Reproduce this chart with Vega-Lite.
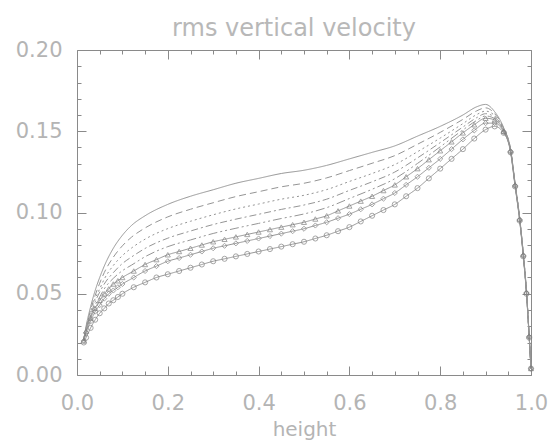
{
  "$schema": "https://vega.github.io/schema/vega-lite/v6.json",
  "width": 454,
  "height": 325,
  "autosize": {"type": "none"},
  "padding": {"left": 77, "top": 50, "right": 22, "bottom": 66},
  "background": "white",
  "config": {
    "view": {"stroke": "#8a8a8a", "strokeWidth": 1},
    "font": "DejaVu Sans",
    "axis": {"domain": false, "grid": false, "ticks": true, "tickColor": "#8a8a8a", "tickWidth": 1, "labelColor": "#b4b4b4", "labelFont": "DejaVu Sans", "labelFontSize": 21, "titleColor": "#b4b4b4", "titleFont": "DejaVu Sans", "titleFontWeight": "normal", "titleFontSize": 20}
  },
  "title": {"text": "rms vertical velocity", "fontSize": 24, "color": "#b8b8b8", "font": "DejaVu Sans", "fontWeight": "normal", "frame": "group", "anchor": "middle", "offset": -2, "dx": -10},
  "data": {"values": [
    {"k":"s","x":0.015,"v":0.022},{"k":"s","x":0.02,"v":0.030},{"k":"s","x":0.03,"v":0.042},{"k":"s","x":0.04,"v":0.052},{"k":"s","x":0.05,"v":0.060},{"k":"s","x":0.06,"v":0.067},{"k":"s","x":0.08,"v":0.078},{"k":"s","x":0.10,"v":0.086},{"k":"s","x":0.12,"v":0.092},{"k":"s","x":0.15,"v":0.098},{"k":"s","x":0.20,"v":0.105},{"k":"s","x":0.25,"v":0.110},{"k":"s","x":0.30,"v":0.114},{"k":"s","x":0.35,"v":0.118},{"k":"s","x":0.40,"v":0.121},{"k":"s","x":0.45,"v":0.124},{"k":"s","x":0.50,"v":0.126},{"k":"s","x":0.55,"v":0.129},{"k":"s","x":0.60,"v":0.133},{"k":"s","x":0.65,"v":0.137},{"k":"s","x":0.70,"v":0.141},{"k":"s","x":0.75,"v":0.147},{"k":"s","x":0.80,"v":0.153},{"k":"s","x":0.85,"v":0.160},{"k":"s","x":0.88,"v":0.165},{"k":"s","x":0.90,"v":0.1665},{"k":"s","x":0.92,"v":0.162},{"k":"s","x":0.94,"v":0.152},{"k":"s","x":0.955,"v":0.139},{"k":"s","x":0.965,"v":0.118},{"k":"s","x":0.975,"v":0.097},{"k":"s","x":0.983,"v":0.075},{"k":"s","x":0.99,"v":0.052},{"k":"s","x":0.996,"v":0.024},{"k":"s","x":1.0,"v":0.004},

    {"k":"d1","x":0.015,"v":0.022},{"k":"d1","x":0.02,"v":0.029},{"k":"d1","x":0.03,"v":0.040},{"k":"d1","x":0.04,"v":0.049},{"k":"d1","x":0.05,"v":0.0565},{"k":"d1","x":0.06,"v":0.063},{"k":"d1","x":0.08,"v":0.0725},{"k":"d1","x":0.10,"v":0.0795},{"k":"d1","x":0.12,"v":0.0848},{"k":"d1","x":0.15,"v":0.0905},{"k":"d1","x":0.20,"v":0.0973},{"k":"d1","x":0.25,"v":0.102},{"k":"d1","x":0.30,"v":0.106},{"k":"d1","x":0.35,"v":0.1098},{"k":"d1","x":0.40,"v":0.1128},{"k":"d1","x":0.45,"v":0.1158},{"k":"d1","x":0.50,"v":0.118},{"k":"d1","x":0.55,"v":0.1213},{"k":"d1","x":0.60,"v":0.1258},{"k":"d1","x":0.65,"v":0.1303},{"k":"d1","x":0.70,"v":0.135},{"k":"d1","x":0.75,"v":0.142},{"k":"d1","x":0.80,"v":0.1493},{"k":"d1","x":0.85,"v":0.1573},{"k":"d1","x":0.88,"v":0.1625},{"k":"d1","x":0.90,"v":0.1644},{"k":"d1","x":0.92,"v":0.1608},{"k":"d1","x":0.94,"v":0.1515},{"k":"d1","x":0.955,"v":0.139},{"k":"d1","x":0.965,"v":0.1175},{"k":"d1","x":0.975,"v":0.0965},{"k":"d1","x":0.983,"v":0.0745},{"k":"d1","x":0.99,"v":0.0515},{"k":"d1","x":0.996,"v":0.024},{"k":"d1","x":1.0,"v":0.004},

    {"k":"d2","x":0.015,"v":0.022},{"k":"d2","x":0.02,"v":0.029},{"k":"d2","x":0.03,"v":0.039},{"k":"d2","x":0.04,"v":0.047},{"k":"d2","x":0.05,"v":0.053},{"k":"d2","x":0.06,"v":0.059},{"k":"d2","x":0.08,"v":0.0674},{"k":"d2","x":0.10,"v":0.0735},{"k":"d2","x":0.12,"v":0.0781},{"k":"d2","x":0.15,"v":0.0836},{"k":"d2","x":0.20,"v":0.0901},{"k":"d2","x":0.25,"v":0.0946},{"k":"d2","x":0.30,"v":0.0986},{"k":"d2","x":0.35,"v":0.1022},{"k":"d2","x":0.40,"v":0.1052},{"k":"d2","x":0.45,"v":0.1082},{"k":"d2","x":0.50,"v":0.1106},{"k":"d2","x":0.55,"v":0.1141},{"k":"d2","x":0.60,"v":0.1191},{"k":"d2","x":0.65,"v":0.124},{"k":"d2","x":0.70,"v":0.1295},{"k":"d2","x":0.75,"v":0.1374},{"k":"d2","x":0.80,"v":0.1458},{"k":"d2","x":0.85,"v":0.1547},{"k":"d2","x":0.88,"v":0.1602},{"k":"d2","x":0.90,"v":0.1624},{"k":"d2","x":0.92,"v":0.1596},{"k":"d2","x":0.94,"v":0.151},{"k":"d2","x":0.955,"v":0.1385},{"k":"d2","x":0.965,"v":0.1175},{"k":"d2","x":0.975,"v":0.0965},{"k":"d2","x":0.983,"v":0.0745},{"k":"d2","x":0.99,"v":0.0515},{"k":"d2","x":0.996,"v":0.024},{"k":"d2","x":1.0,"v":0.004},

    {"k":"d3","x":0.015,"v":0.021},{"k":"d3","x":0.02,"v":0.028},{"k":"d3","x":0.03,"v":0.037},{"k":"d3","x":0.04,"v":0.045},{"k":"d3","x":0.05,"v":0.051},{"k":"d3","x":0.06,"v":0.056},{"k":"d3","x":0.08,"v":0.063},{"k":"d3","x":0.10,"v":0.0686},{"k":"d3","x":0.12,"v":0.0726},{"k":"d3","x":0.15,"v":0.0779},{"k":"d3","x":0.20,"v":0.0842},{"k":"d3","x":0.25,"v":0.0886},{"k":"d3","x":0.30,"v":0.0926},{"k":"d3","x":0.35,"v":0.0959},{"k":"d3","x":0.40,"v":0.0989},{"k":"d3","x":0.45,"v":0.1019},{"k":"d3","x":0.50,"v":0.1046},{"k":"d3","x":0.55,"v":0.1082},{"k":"d3","x":0.60,"v":0.1136},{"k":"d3","x":0.65,"v":0.1189},{"k":"d3","x":0.70,"v":0.1249},{"k":"d3","x":0.75,"v":0.1336},{"k":"d3","x":0.80,"v":0.143},{"k":"d3","x":0.85,"v":0.1526},{"k":"d3","x":0.88,"v":0.1583},{"k":"d3","x":0.90,"v":0.1608},{"k":"d3","x":0.92,"v":0.1587},{"k":"d3","x":0.94,"v":0.1507},{"k":"d3","x":0.955,"v":0.1383},{"k":"d3","x":0.965,"v":0.1173},{"k":"d3","x":0.975,"v":0.0963},{"k":"d3","x":0.983,"v":0.0743},{"k":"d3","x":0.99,"v":0.0513},{"k":"d3","x":0.996,"v":0.024},{"k":"d3","x":1.0,"v":0.004},

    {"k":"d4","x":0.015,"v":0.021},{"k":"d4","x":0.02,"v":0.027},{"k":"d4","x":0.03,"v":0.036},{"k":"d4","x":0.04,"v":0.043},{"k":"d4","x":0.05,"v":0.048},{"k":"d4","x":0.06,"v":0.053},{"k":"d4","x":0.08,"v":0.0595},{"k":"d4","x":0.10,"v":0.0642},{"k":"d4","x":0.12,"v":0.0676},{"k":"d4","x":0.15,"v":0.0728},{"k":"d4","x":0.20,"v":0.079},{"k":"d4","x":0.25,"v":0.0831},{"k":"d4","x":0.30,"v":0.0871},{"k":"d4","x":0.35,"v":0.0903},{"k":"d4","x":0.40,"v":0.0933},{"k":"d4","x":0.45,"v":0.0963},{"k":"d4","x":0.50,"v":0.0991},{"k":"d4","x":0.55,"v":0.103},{"k":"d4","x":0.60,"v":0.1086},{"k":"d4","x":0.65,"v":0.1143},{"k":"d4","x":0.70,"v":0.1208},{"k":"d4","x":0.75,"v":0.1302},{"k":"d4","x":0.80,"v":0.1404},{"k":"d4","x":0.85,"v":0.1508},{"k":"d4","x":0.88,"v":0.1566},{"k":"d4","x":0.90,"v":0.1594},{"k":"d4","x":0.92,"v":0.1578},{"k":"d4","x":0.94,"v":0.1503},{"k":"d4","x":0.955,"v":0.138},{"k":"d4","x":0.965,"v":0.1172},{"k":"d4","x":0.975,"v":0.0962},{"k":"d4","x":0.983,"v":0.0742},{"k":"d4","x":0.99,"v":0.0512},{"k":"d4","x":0.996,"v":0.024},{"k":"d4","x":1.0,"v":0.004},

    {"k":"a","x":0.015,"v":0.021},{"k":"a","x":0.02,"v":0.027},{"k":"a","x":0.03,"v":0.035},{"k":"a","x":0.04,"v":0.041},{"k":"a","x":0.05,"v":0.046},{"k":"a","x":0.06,"v":0.050},{"k":"a","x":0.07,"v":0.053},{"k":"a","x":0.08,"v":0.056},{"k":"a","x":0.09,"v":0.058},{"k":"a","x":0.10,"v":0.060},{"k":"a","x":0.125,"v":0.064},{"k":"a","x":0.15,"v":0.068},{"k":"a","x":0.175,"v":0.071},{"k":"a","x":0.20,"v":0.074},{"k":"a","x":0.225,"v":0.076},{"k":"a","x":0.25,"v":0.078},{"k":"a","x":0.275,"v":0.080},{"k":"a","x":0.30,"v":0.082},{"k":"a","x":0.325,"v":0.0835},{"k":"a","x":0.35,"v":0.085},{"k":"a","x":0.375,"v":0.0865},{"k":"a","x":0.40,"v":0.088},{"k":"a","x":0.425,"v":0.0895},{"k":"a","x":0.45,"v":0.091},{"k":"a","x":0.475,"v":0.0925},{"k":"a","x":0.50,"v":0.094},{"k":"a","x":0.525,"v":0.096},{"k":"a","x":0.55,"v":0.098},{"k":"a","x":0.575,"v":0.101},{"k":"a","x":0.60,"v":0.104},{"k":"a","x":0.625,"v":0.107},{"k":"a","x":0.65,"v":0.110},{"k":"a","x":0.675,"v":0.1135},{"k":"a","x":0.70,"v":0.117},{"k":"a","x":0.725,"v":0.122},{"k":"a","x":0.75,"v":0.127},{"k":"a","x":0.775,"v":0.1325},{"k":"a","x":0.80,"v":0.138},{"k":"a","x":0.825,"v":0.1435},{"k":"a","x":0.85,"v":0.149},{"k":"a","x":0.875,"v":0.154},{"k":"a","x":0.90,"v":0.158},{"k":"a","x":0.92,"v":0.157},{"k":"a","x":0.94,"v":0.150},{"k":"a","x":0.955,"v":0.138},{"k":"a","x":0.965,"v":0.117},{"k":"a","x":0.975,"v":0.096},{"k":"a","x":0.983,"v":0.074},{"k":"a","x":0.99,"v":0.051},{"k":"a","x":0.996,"v":0.024},{"k":"a","x":1.0,"v":0.004},

    {"k":"b","x":0.015,"v":0.021},{"k":"b","x":0.02,"v":0.026},{"k":"b","x":0.03,"v":0.033},{"k":"b","x":0.04,"v":0.039},{"k":"b","x":0.05,"v":0.043},{"k":"b","x":0.06,"v":0.047},{"k":"b","x":0.07,"v":0.050},{"k":"b","x":0.08,"v":0.052},{"k":"b","x":0.09,"v":0.054},{"k":"b","x":0.10,"v":0.056},{"k":"b","x":0.125,"v":0.060},{"k":"b","x":0.15,"v":0.064},{"k":"b","x":0.175,"v":0.067},{"k":"b","x":0.20,"v":0.070},{"k":"b","x":0.225,"v":0.072},{"k":"b","x":0.25,"v":0.074},{"k":"b","x":0.275,"v":0.076},{"k":"b","x":0.30,"v":0.078},{"k":"b","x":0.325,"v":0.0795},{"k":"b","x":0.35,"v":0.081},{"k":"b","x":0.375,"v":0.0825},{"k":"b","x":0.40,"v":0.084},{"k":"b","x":0.425,"v":0.0855},{"k":"b","x":0.45,"v":0.087},{"k":"b","x":0.475,"v":0.0885},{"k":"b","x":0.50,"v":0.090},{"k":"b","x":0.525,"v":0.092},{"k":"b","x":0.55,"v":0.094},{"k":"b","x":0.575,"v":0.0965},{"k":"b","x":0.60,"v":0.099},{"k":"b","x":0.625,"v":0.102},{"k":"b","x":0.65,"v":0.105},{"k":"b","x":0.675,"v":0.1085},{"k":"b","x":0.70,"v":0.112},{"k":"b","x":0.725,"v":0.117},{"k":"b","x":0.75,"v":0.122},{"k":"b","x":0.775,"v":0.1275},{"k":"b","x":0.80,"v":0.133},{"k":"b","x":0.825,"v":0.139},{"k":"b","x":0.85,"v":0.145},{"k":"b","x":0.875,"v":0.1505},{"k":"b","x":0.90,"v":0.155},{"k":"b","x":0.92,"v":0.155},{"k":"b","x":0.94,"v":0.1495},{"k":"b","x":0.955,"v":0.1375},{"k":"b","x":0.965,"v":0.1165},{"k":"b","x":0.975,"v":0.0955},{"k":"b","x":0.983,"v":0.0735},{"k":"b","x":0.99,"v":0.0505},{"k":"b","x":0.996,"v":0.0235},{"k":"b","x":1.0,"v":0.004},

    {"k":"c","x":0.015,"v":0.020},{"k":"c","x":0.02,"v":0.023},{"k":"c","x":0.03,"v":0.029},{"k":"c","x":0.04,"v":0.034},{"k":"c","x":0.05,"v":0.038},{"k":"c","x":0.06,"v":0.041},{"k":"c","x":0.07,"v":0.044},{"k":"c","x":0.08,"v":0.046},{"k":"c","x":0.09,"v":0.048},{"k":"c","x":0.10,"v":0.050},{"k":"c","x":0.125,"v":0.054},{"k":"c","x":0.15,"v":0.057},{"k":"c","x":0.175,"v":0.060},{"k":"c","x":0.20,"v":0.062},{"k":"c","x":0.225,"v":0.064},{"k":"c","x":0.25,"v":0.066},{"k":"c","x":0.275,"v":0.068},{"k":"c","x":0.30,"v":0.070},{"k":"c","x":0.325,"v":0.0715},{"k":"c","x":0.35,"v":0.073},{"k":"c","x":0.375,"v":0.0745},{"k":"c","x":0.40,"v":0.076},{"k":"c","x":0.425,"v":0.0775},{"k":"c","x":0.45,"v":0.079},{"k":"c","x":0.475,"v":0.0805},{"k":"c","x":0.50,"v":0.082},{"k":"c","x":0.525,"v":0.084},{"k":"c","x":0.55,"v":0.086},{"k":"c","x":0.575,"v":0.0885},{"k":"c","x":0.60,"v":0.091},{"k":"c","x":0.625,"v":0.0945},{"k":"c","x":0.65,"v":0.098},{"k":"c","x":0.675,"v":0.1015},{"k":"c","x":0.70,"v":0.105},{"k":"c","x":0.725,"v":0.110},{"k":"c","x":0.75,"v":0.115},{"k":"c","x":0.775,"v":0.121},{"k":"c","x":0.80,"v":0.127},{"k":"c","x":0.825,"v":0.133},{"k":"c","x":0.85,"v":0.139},{"k":"c","x":0.875,"v":0.1455},{"k":"c","x":0.90,"v":0.151},{"k":"c","x":0.92,"v":0.153},{"k":"c","x":0.94,"v":0.149},{"k":"c","x":0.955,"v":0.137},{"k":"c","x":0.965,"v":0.116},{"k":"c","x":0.975,"v":0.095},{"k":"c","x":0.983,"v":0.073},{"k":"c","x":0.99,"v":0.050},{"k":"c","x":0.996,"v":0.023},{"k":"c","x":1.0,"v":0.004}
  ]},
  "resolve": {"axis": {"x": "independent", "y": "independent"}},
  "layer": [
    {
      "mark": {"type": "line", "interpolate": "monotone", "color": "#959595", "strokeWidth": 1},
      "encoding": {
        "x": {"field": "x", "type": "quantitative", "scale": {"domain": [0, 1], "nice": false, "zero": false},
              "axis": {"orient": "bottom", "values": [0, 0.2, 0.4, 0.6, 0.8, 1.0], "format": ".1f", "tickSize": -9, "labelPadding": 26, "title": "height", "titlePadding": 6, "labelFlush": false}},
        "y": {"field": "v", "type": "quantitative", "scale": {"domain": [0, 0.2], "nice": false},
              "axis": {"orient": "left", "values": [0, 0.05, 0.1, 0.15, 0.2], "format": ".2f", "tickSize": -9, "labelPadding": 24, "title": null, "labelFlush": false}},
        "detail": {"field": "k"},
        "strokeDash": {"field": "k", "type": "nominal", "legend": null,
          "scale": {"domain": ["s", "d1", "d2", "d3", "d4", "a", "b", "c"],
                    "range": [[1, 0], [7, 4], [2, 3], [7, 3, 2, 3], [9, 3, 2, 3, 2, 3], [1, 0], [1, 0], [1, 0]]}}
      }
    },
    {
      "transform": [{"filter": {"field": "k", "oneOf": ["a", "b", "c"]}}],
      "mark": {"type": "point", "filled": false, "color": "#808080", "strokeWidth": 1, "size": 26},
      "encoding": {
        "x": {"field": "x", "type": "quantitative", "scale": {"domain": [0, 1], "nice": false, "zero": false},
              "axis": {"orient": "top", "values": [0, 0.2, 0.4, 0.6, 0.8, 1.0], "tickSize": -9, "labels": false, "title": null}},
        "y": {"field": "v", "type": "quantitative", "scale": {"domain": [0, 0.2], "nice": false},
              "axis": {"orient": "right", "values": [0, 0.05, 0.1, 0.15, 0.2], "tickSize": -9, "labels": false, "title": null}},
        "shape": {"field": "k", "type": "nominal", "legend": null,
          "scale": {"domain": ["a", "b", "c"], "range": ["triangle-up", "diamond", "circle"]}}
      }
    },
    {
      "transform": [{"filter": {"field": "k", "equal": "s"}}],
      "mark": {"type": "point", "opacity": 0},
      "encoding": {
        "x": {"field": "x", "type": "quantitative", "scale": {"domain": [0, 1], "nice": false, "zero": false},
              "axis": {"orient": "bottom", "values": [0.05, 0.1, 0.15, 0.25, 0.3, 0.35, 0.45, 0.5, 0.55, 0.65, 0.7, 0.75, 0.85, 0.9, 0.95], "tickSize": -4, "labels": false, "title": null}},
        "y": {"field": "v", "type": "quantitative", "scale": {"domain": [0, 0.2], "nice": false},
              "axis": {"orient": "left", "values": [0.01, 0.02, 0.03, 0.04, 0.06, 0.07, 0.08, 0.09, 0.11, 0.12, 0.13, 0.14, 0.16, 0.17, 0.18, 0.19], "tickSize": -4, "labels": false, "title": null}}
      }
    },
    {
      "transform": [{"filter": {"field": "k", "equal": "s"}}],
      "mark": {"type": "point", "opacity": 0},
      "encoding": {
        "x": {"field": "x", "type": "quantitative", "scale": {"domain": [0, 1], "nice": false, "zero": false},
              "axis": {"orient": "top", "values": [0.05, 0.1, 0.15, 0.25, 0.3, 0.35, 0.45, 0.5, 0.55, 0.65, 0.7, 0.75, 0.85, 0.9, 0.95], "tickSize": -4, "labels": false, "title": null}},
        "y": {"field": "v", "type": "quantitative", "scale": {"domain": [0, 0.2], "nice": false},
              "axis": {"orient": "right", "values": [0.01, 0.02, 0.03, 0.04, 0.06, 0.07, 0.08, 0.09, 0.11, 0.12, 0.13, 0.14, 0.16, 0.17, 0.18, 0.19], "tickSize": -4, "labels": false, "title": null}}
      }
    }
  ]
}
